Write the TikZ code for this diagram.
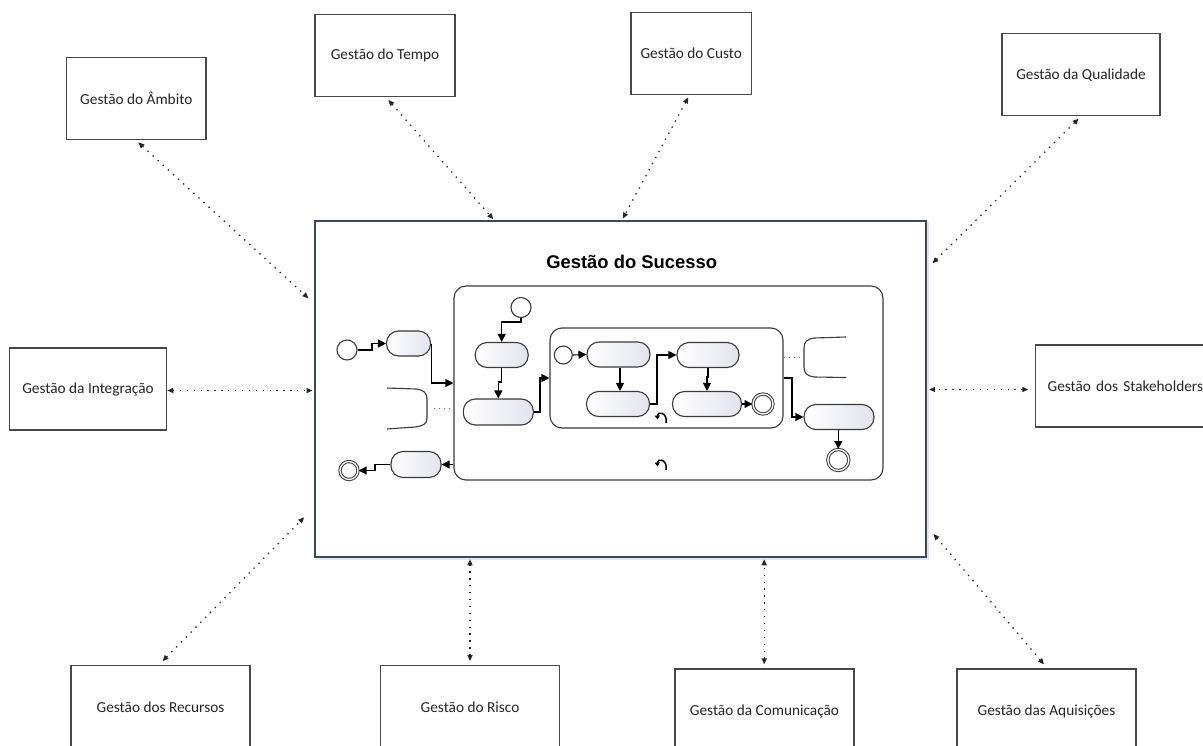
\documentclass[tikz,border=0pt]{standalone}
\usepackage{fontspec}
\setmainfont{Carlito}
\newfontfamily\titlefont{Liberation Sans}
\usetikzlibrary{arrows.meta,calc}

\definecolor{edge}{HTML}{484848}
\definecolor{frame}{HTML}{3E4858}
\definecolor{halo}{HTML}{E2E7EE}
\definecolor{pillfill}{HTML}{E2E3EC}
\definecolor{ink}{HTML}{3A3A3A}

\tikzset{
  area/.style={draw=edge, line width=1.2pt, fill=white, text=black!85,
    font=\fontsize{15.3}{18}\selectfont, inner sep=0pt},
  pill/.style={draw=ink, line width=1.1pt, rounded corners=12pt,
    left color=white, right color=pillfill, minimum height=25pt, inner sep=0pt},
  initstate/.style={circle, draw=ink, line width=1.1pt, fill=white,
    minimum size=20pt, inner sep=0pt},
  finalstate/.style={circle, draw=ink, double=white, double distance=1.3pt,
    line width=1pt, minimum size=18pt, inner sep=0pt},
  flow/.style={draw=black, line width=1.1pt, -{Triangle[length=8pt,width=8pt]}},
  link/.style={draw=black!85, line width=1.3pt, dash pattern=on 1.3pt off 5.6pt,
    {Triangle[length=6pt,width=5pt]}-{Triangle[length=6pt,width=5pt]}},
  region/.style={draw=ink, line width=1.1pt, rounded corners=12pt},
  bracket/.style={draw=ink, line width=1.1pt},
  tinydots/.style={draw=black!60, line width=1pt, dash pattern=on 1pt off 4pt},
  loopmark/.style={draw=black, line width=1.5pt, -{Triangle[length=4pt,width=5pt]}},
}

\begin{document}
\begin{tikzpicture}[x=1pt, y=-1pt]
\useasboundingbox (0,0) rectangle (1203,745);
\fill[white] (0,0) rectangle (1203,745);

% ---------- knowledge areas around the centre ----------
\node[area, minimum width=139.3pt, minimum height=81.6pt] (ambito) at (136.3,98.5) {Gestão do Âmbito};
\node[area, minimum width=140pt, minimum height=82pt] (tempo) at (385,55.7) {Gestão do Tempo};
\node[area, minimum width=120.7pt, minimum height=82pt] (custo) at (691.3,53.3) {Gestão do Custo};
\node[area, minimum width=158pt, minimum height=82pt] (qual) at (1081,74.7) {Gestão da Qualidade};
\node[area, minimum width=157.4pt, minimum height=82pt] (integ) at (88,389) {Gestão da Integração};
\node[area, anchor=west, minimum height=82pt, inner xsep=12pt, text width=160pt, align=left]
  (stake) at (1035,386) {Gestão dos Stakeholders};
\node[area, minimum width=179pt, minimum height=84pt] (recursos) at (160.5,707.5) {Gestão dos Recursos};
\node[area, minimum width=179.5pt, minimum height=84pt] (risco) at (470,707.5) {Gestão do Risco};
\node[area, minimum width=179pt, minimum height=84pt] (comun) at (764.5,711) {Gestão da Comunicação};
\node[area, minimum width=179pt, minimum height=84pt] (aquis) at (1046.5,711) {Gestão das Aquisições};

% ---------- central frame ----------
\draw[halo, line width=2pt] (317,223) rectangle (928,559);
\node[draw=frame, line width=1.6pt, fill=white, minimum width=611pt, minimum height=336pt,
  inner sep=0pt] (central) at (620.5,389) {};
\node[font=\titlefont\bfseries\fontsize{18.4}{22}\selectfont, anchor=base]
  (title) at (631.7,268.3) {Gestão do Sucesso};

% ---------- dotted links ----------
\draw[link] ([xshift=2pt,yshift=-2.5pt]ambito.south) -- ([xshift=-5.7pt]central.west |- 0,298.3);
\draw[link] ([xshift=3.3pt,yshift=-2.6pt]tempo.south) -- ([yshift=1pt]central.north -| 493.3,0);
\draw[link] ([xshift=-3pt,yshift=-2.4pt]custo.south) -- ([yshift=1.5pt]central.north -| 622.7,0);
\draw[link] ([xshift=-2.4pt,yshift=-2.3pt]qual.south) -- ([xshift=5.7pt]central.east |- 0,263.3);
\draw[link] (integ.east |- 0,390.5) -- ([xshift=-1.7pt]central.west |- 0,390.5);
\draw[link] ([xshift=-6.7pt]stake.west |- 0,389.5) -- ([xshift=2.3pt]central.east |- 0,389.5);
\draw[link] ([xshift=2pt,yshift=3.8pt]recursos.north) -- ([xshift=-10pt]central.west |- 0,517.3);
\draw[link] ([yshift=3.8pt]risco.north) -- ([yshift=-1.5pt]central.south -| 470,0);
\draw[link] ([xshift=-0.3pt,yshift=4pt]comun.north) -- ([yshift=-1.5pt]central.south -| 764.2,0);
\draw[link] ([xshift=-2.5pt,yshift=4pt]aquis.north) -- ([xshift=6.7pt]central.east |- 0,534);

% ---------- outer composite state ----------
\node[region, minimum width=429pt, minimum height=194pt, inner sep=0pt] (outer) at (668.5,383) {};
% ---------- inner composite state ----------
\node[region, minimum width=233pt, minimum height=100pt, inner sep=0pt] (inner) at (666.5,378) {};

% left part
\node[initstate] (s1) at (347,350) {};
\node[pill, minimum width=44pt] (pF) at (408.5,343.5) {};
\draw[flow] (s1.east) -- (372,350) |- (pF.west);
\draw[flow] (pF.east) |- (outer.west |- 0,383);
\draw[bracket] (387,388) -- (416,389) .. controls (424,390) and (427,393) .. (427,399)
  -- (427,418) .. controls (427,424) and (423,426) .. (415,427) -- (387,429);
\coordinate (ldotA) at (434,408);
\coordinate (ldotB) at (451,408);
\draw[tinydots] (ldotA) -- (ldotB);
\node[pill, minimum width=50pt, minimum height=26pt] (pE) at (416,464.5) {};
\node[finalstate] (fin1) at (349,470.5) {};
\draw[flow] (outer.west |- pE.east) -- (pE.east);
\draw[flow] (pE.west) -- (375,464.5) |- (fin1.east);

% outer region body
\node[initstate] (s2) at (521,307.5) {};
\node[pill, minimum width=53pt] (pA) at (501.7,355) {};
\node[pill, minimum width=70pt, minimum height=26pt] (pB) at (498.3,412) {};
\draw[flow] (s2.south) -- (521,322) -| (pA.north);
\draw[flow] (pA.south) -- (501.7,382) -| (pB.north);
\draw[flow] (pB.east) -- (540,412) |- (inner.west |- 0,378);

% inner region body
\node[initstate, minimum size=18pt] (s3) at (563.3,355) {};
\node[pill, minimum width=63pt] (pC) at (618.5,354.5) {};
\node[pill, minimum width=63pt] (pD) at (618,404) {};
\node[pill, minimum width=62pt] (pG) at (708,355) {};
\node[pill, minimum width=69pt] (pH) at (707,404) {};
\node[finalstate, minimum size=20pt] (fin2) at (763,404) {};
\draw[flow] (s3.east) -- (pC.west);
\draw[flow] (pC.south -| 620,0) -- (pD.north -| 620,0);
\draw[flow] (pD.east) -- (657,404) |- (pG.west);
\draw[flow] (pG.south) -- (708,377) -| (pH.north);
\draw[flow] (pH.east) -- (fin2.west);

% right part
\coordinate (rdotA) at (784,357);
\coordinate (rdotB) at (801,357);
\draw[tinydots] (rdotA) -- (rdotB);
\draw[bracket] (846,337) -- (814,338) .. controls (807,339) and (804,342) .. (804,348)
  -- (804,367) .. controls (804,373) and (807,376) .. (814,377) -- (846,377.5);
\node[pill, minimum width=70pt] (pI) at (839,417) {};
\node[finalstate, minimum size=21pt] (fin3) at (838.3,460) {};
\draw[flow] (inner.east |- 0,378) -- (792,378) |- (pI.west);
\draw[flow] (pI.south -| 838.3,0) -- (fin3.north);

% loop markers
\coordinate (lpA) at (662,418);
\coordinate (lpB) at (662,465);
\draw[loopmark] ($(lpA)+(4,5)$) .. controls ($(lpA)+(6,-6)$) and ($(lpA)+(-5,-7)$) .. ($(lpA)+(-4.5,1.5)$);
\draw[loopmark] ($(lpB)+(4,5)$) .. controls ($(lpB)+(6,-6)$) and ($(lpB)+(-5,-7)$) .. ($(lpB)+(-4.5,1.5)$);
\end{tikzpicture}
\end{document}
